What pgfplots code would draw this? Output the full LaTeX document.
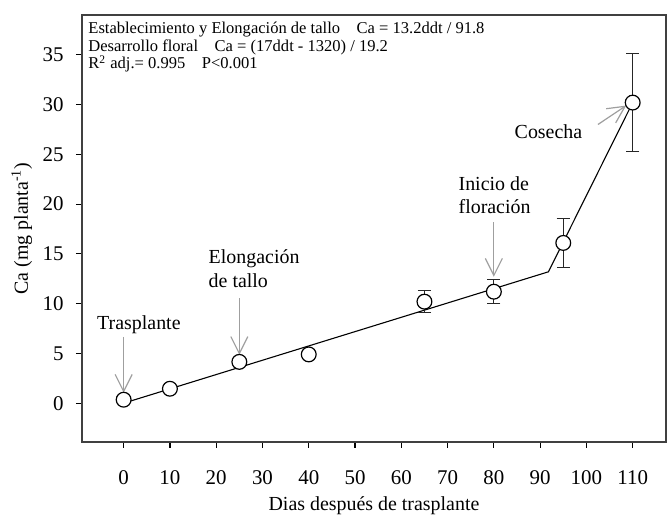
\documentclass[border=0pt]{standalone}
\usepackage{fontspec}
\setmainfont{Liberation Serif}
\usepackage{pgfplots}
\pgfplotsset{compat=1.18}
\usetikzlibrary{arrows.meta}

\begin{document}
\begin{tikzpicture}
\begin{axis}[
  scale only axis,
  width=292bp, height=213.5bp,
  xmin=-9, xmax=117.2, ymin=-3.9, ymax=39,
  axis line style={black!75, line width=0.8bp},
  xtick={0,10,...,110}, ytick={0,5,...,35},
  tick align=outside,
  major tick length=3bp,
  tick style={black, line width=0.6bp},
  tick pos=left,
  /pgf/number format/assume math mode=true,
  ticklabel style={font=\fontsize{10.5}{12}\selectfont},
  xticklabel style={anchor=center, inner sep=0pt, yshift=-15bp},
  yticklabel style={anchor=east, inner sep=0pt, xshift=-6bp},
  xlabel={Dias después de trasplante},
  ylabel={Ca (mg planta\textsuperscript{-1})},
  label style={font=\fontsize{10}{12}\selectfont},
  xlabel style={at={(axis description cs:0.5,-0.148)}, anchor=center},
  ylabel style={at={(axis description cs:-0.103,0.5)}, anchor=center},
  clip=false,
]

% fitted segmented line
\addplot[black, line width=0.55bp] coordinates {(0,0) (91.8,13.2) (110,30.2)};

% error bars
\addplot[draw=none, mark=none, forget plot,
  error bars/.cd, y dir=both, y explicit,
  error bar style={black!85, line width=0.5bp},
  error mark options={rotate=90, mark size=3.3bp, line width=0.6bp, black!85}]
  table[x=x, y=y, y error=e] {
x y e
65 10.2 1.1
80 11.2 1.2
95 16.1 2.45
110 30.2 4.9
};

% observed points
\addplot[only marks, mark=*, mark size=3.7bp,
  mark options={fill=white, draw=black, line width=0.6bp}]
  table[x=x, y=y] {
x y
0 0.35
10 1.45
25 4.15
40 4.9
65 10.2
80 11.2
95 16.1
110 30.2
};

% equations box text
\node[anchor=north west, align=left, inner sep=0pt,
  font=\fontsize{8.3}{8.8}\selectfont]
  at ([shift={(3bp,-3.5bp)}]rel axis cs:0,1)
  {Establecimiento y Elongación de tallo\quad Ca = 13.2ddt / 91.8\\
   Desarrollo floral\quad Ca = (17ddt - 1320) / 19.2\\
   R\textsuperscript{2} adj.= 0.995\quad P<0.001};

% annotations
\tikzset{ann/.style={gray!75, line width=0.6bp, -{Straight Barb[length=8.5bp,width=8.5bp]}}}
\draw[ann] (axis cs:0,6.65) -- (axis cs:0,1.05);
\node[font=\fontsize{10}{12}\selectfont] at (axis cs:3.3,7.85) {Trasplante};

\draw[ann] (axis cs:25,10.55) -- (axis cs:25,4.85);
\node[font=\fontsize{10}{12}\selectfont, align=left, anchor=west, inner sep=0pt]
  at (axis cs:18.3,13.5) {Elongación\\de tallo};

\draw[ann] (axis cs:80,18.2) -- (axis cs:80,12.7);
\node[font=\fontsize{10}{12}\selectfont, align=left, anchor=west, inner sep=0pt]
  at (axis cs:72.3,20.9) {Inicio de\\floración};

\draw[ann] (axis cs:102.5,28.0) -- (axis cs:108.6,29.9);
\node[font=\fontsize{10}{12}\selectfont] at (axis cs:91.8,27.3) {Cosecha};

\end{axis}
\pgfresetboundingbox
\path[use as bounding box] ([shift={(-41bp,-38bp)}]current axis.south west)
  rectangle ([shift={(0.5bp,7.5bp)}]current axis.north east);
\end{tikzpicture}
\end{document}
